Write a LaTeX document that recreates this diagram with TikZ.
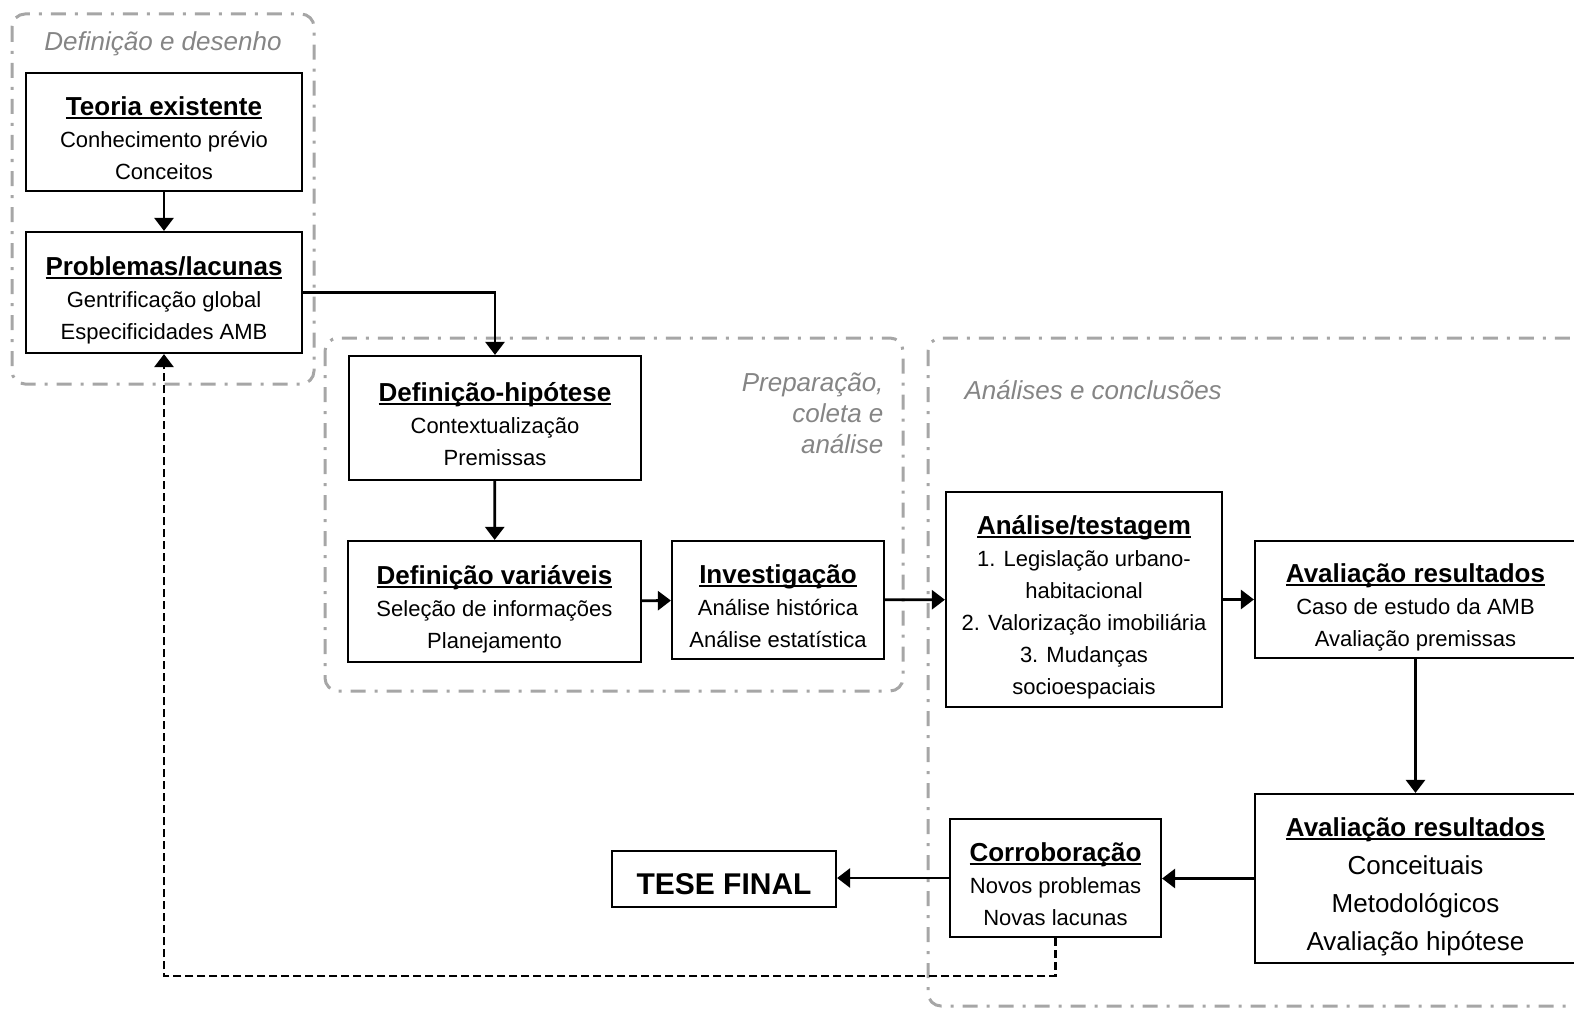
\documentclass[tikz,border=0pt]{standalone}
\usepackage{fontspec}
\setmainfont{Liberation Sans}
\usetikzlibrary{arrows.meta}
\definecolor{regiongray}{HTML}{A6A6A6}
\definecolor{labelgray}{HTML}{858585}
\newcommand\ulin[1]{\sbox0{#1}\rlap{\rule[-3.5pt]{\wd0}{2pt}}\usebox0}
\newcommand\ttl[1]{\rule{0pt}{36pt}{\fontsize{26}{32}\selectfont\bfseries\ulin{#1}}}
\newcommand\lastl{\rule[-6pt]{0pt}{6pt}}
\begin{document}
\begin{tikzpicture}[x=1pt,y=-1pt,
  region/.style={draw=regiongray,line width=3pt,rounded corners=13pt,dash pattern=on 15pt off 9pt on 3pt off 9pt},
  rlabel/.style={text=labelgray,font=\fontsize{26}{31}\selectfont\itshape},
  box/.style={draw,line width=2.2pt,inner sep=0pt,align=center,font=\fontsize{22}{32}\selectfont},
  conn/.style={line width=2.8pt,-{Triangle[length=13pt,width=19pt]}},
  back/.style={line width=2.8pt,dash pattern=on 8pt off 4pt,-{Triangle[length=13pt,width=19pt]}}]
\useasboundingbox (0,0) rectangle (1574,1014);
% regions
\draw[region] (12,14) rectangle (314,384);
\draw[region] (325,338) rectangle (903,691);
\draw[region] (928,338) rectangle (1640,1006);
\node[rlabel] (l1) at (163,44) {Definição e desenho};
\node[rlabel,align=right,anchor=east] (l2) at (887,413) {Preparação,\\coleta e\\análise};
\node[rlabel,anchor=west] (l3) at (961,390) {Análises e conclusões};
% boxes
\node[box,minimum width=276pt,minimum height=118pt] (teo) at (164,132)
  {\ttl{Teoria existente}\\Conhecimento prévio\\Conceitos\lastl};
\node[box,minimum width=276pt,minimum height=121pt] (prob) at (164,292.5)
  {\ttl{Problemas/lacunas}\\Gentrificação global\\Especificidades AMB\lastl};
\node[box,minimum width=292pt,minimum height=124pt] (dh) at (495,418)
  {\ttl{Definição-hipótese}\\Contextualização\\Premissas\lastl};
\node[box,minimum width=293pt,minimum height=121pt] (dv) at (494.5,601.5)
  {\ttl{Definição variáveis}\\Seleção de informações\\Planejamento\lastl};
\node[box,minimum width=212pt,minimum height=118pt] (inv) at (778,600)
  {\ttl{Investigação}\\Análise histórica\\Análise estatística\lastl};
\node[box,minimum width=276pt,minimum height=215pt] (at) at (1084,599.5)
  {\ttl{Análise/testagem}\\1. Legislação urbano-\\habitacional\\2. Valorização imobiliária\\3. Mudanças\\socioespaciais\lastl};
\node[box,minimum width=321pt,minimum height=117pt] (ar1) at (1415.5,599.5)
  {\ttl{Avaliação resultados}\\Caso de estudo da AMB\\Avaliação premissas\lastl};
\node[box,minimum width=321pt,minimum height=169pt,font=\fontsize{26}{38}\selectfont] (ar2) at (1415.5,878.5)
  {\ttl{Avaliação resultados}\\Conceituais\\Metodológicos\\Avaliação hipótese\lastl};
\node[box,minimum width=211pt,minimum height=118pt] (corr) at (1055.5,878)
  {\ttl{Corroboração}\\Novos problemas\\Novas lacunas\lastl};
\node[box,minimum width=224pt,minimum height=56pt,font=\fontsize{30}{36}\selectfont\bfseries] (tese) at (724,879)
  {\rule{0pt}{30.5pt}TESE FINAL};
% connectors
\draw[conn] (teo) -- (prob);
\draw[conn] (prob.east) -| (dh.north);
\draw[conn] (dh) -- (dv);
\draw[conn] (dv) -- (inv);
\draw[conn] (inv) -- (at);
\draw[conn] (at) -- (ar1);
\draw[conn] (ar1) -- (ar2);
\draw[conn] (ar2.west) -- (corr.east |- ar2.west);
\draw[conn] (corr.west) -- (tese.east |- corr.west);
\coordinate (dj) at (164,976);
\draw[back] (corr.south) |- (dj) -- (prob.south);
\end{tikzpicture}
\end{document}
